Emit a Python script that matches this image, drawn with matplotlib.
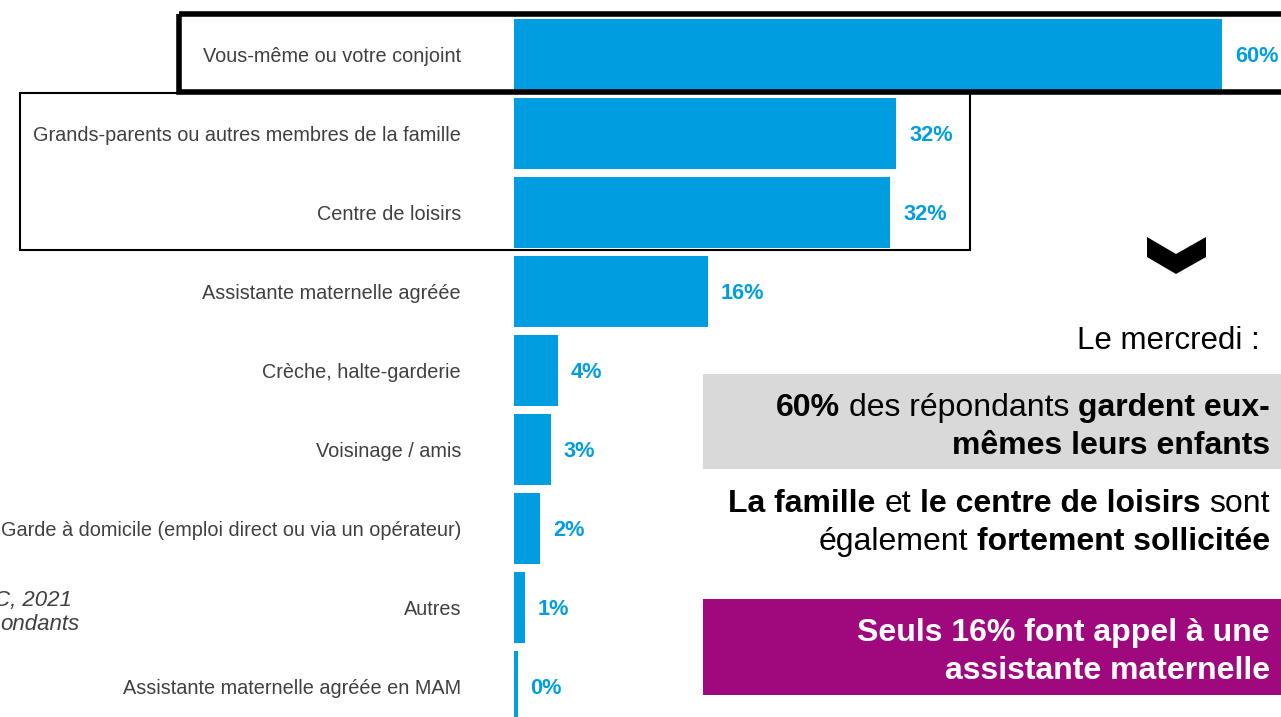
import matplotlib
matplotlib.use("Agg")
from matplotlib import pyplot as plt
from matplotlib.patches import Rectangle, Polygon
from matplotlib.transforms import Affine2D

plt.rcParams['font.family'] = ['Liberation Sans', 'DejaVu Sans']

# Mode de garde le mercredi (% des répondants)
categories = [
    "Vous-même ou votre conjoint",
    "Grands-parents ou autres membres de la famille",
    "Centre de loisirs",
    "Assistante maternelle agréée",
    "Crèche, halte-garderie",
    "Voisinage / amis",
    "Garde à domicile (emploi direct ou via un opérateur)",
    "Autres",
    "Assistante maternelle agréée en MAM",
]
values = [60, 32.4, 31.9, 16.4, 3.7, 3.1, 2.2, 0.9, 0.3]

BLUE = '#009ee0'
GREY_TXT = '#404040'
PURPLE = '#a0097d'

W, H = 1281, 717
fig = plt.figure(figsize=(W / 100, H / 100), dpi=100)
ax = fig.add_axes([0, 0, 1, 1])
ax.axis('off')

# x: bar origin at 514 px, 11.8 px per percent; rows every 79 px
x0, scale = 514, 11.8
row0, pitch = 54, 79
ax.set_xlim(-x0 / scale, (W - x0) / scale)
ax.set_ylim((H - row0) / pitch, -row0 / pitch)

def px_x(px):
    return (px - x0) / scale

rows = list(range(len(categories)))
ax.barh(rows, values, height=71 / pitch, color=BLUE)

dy = 2.5 / pitch
for i, (cat, v) in enumerate(zip(categories, values)):
    ax.text(px_x(461), i + dy, cat, ha='right', va='center', fontsize=14.3, color=GREY_TXT)
    ax.text(v + 13 / scale, i + dy, f"{v:.0f}%", ha='left', va='center',
            fontsize=15.7, fontweight='bold', color=BLUE)

# pixel coordinates measured from the top-left corner
pix = Affine2D().scale(1 / W, -1 / H).translate(0, 1) + fig.transFigure

fig.patches.append(Rectangle((178.5, 14), 1150, 78, transform=pix, fill=False,
                             ec='black', lw=4))
fig.patches.append(Rectangle((19.5, 93), 950.5, 156.5, transform=pix, fill=False,
                             ec='black', lw=1.5))

chevron = [(1147, 237), (1176, 254), (1206, 237), (1206, 257), (1176, 274), (1147, 257)]
fig.patches.append(Polygon(chevron, closed=True, transform=pix, fc='black', ec='none'))

fig.patches.append(Rectangle((703, 374), 600, 95, transform=pix, fc='#d9d9d9', ec='none'))
fig.patches.append(Rectangle((703, 599), 600, 96, transform=pix, fc=PURPLE, ec='none'))

renderer = fig.canvas.get_renderer()

def rich_line(x, y, parts, size, color='black'):
    # draws the parts right to left so the line ends at x (baseline at y)
    sp = 0.278 * size * 100 / 72
    for text, weight in reversed(parts):
        if text.endswith(' '):
            x -= sp
        t = fig.text(x, y, text.strip(), transform=pix, ha='right', va='baseline',
                     fontsize=size, fontweight=weight, color=color)
        x -= t.get_window_extent(renderer).width
        if text.startswith(' '):
            x -= sp

fs = 23
rich_line(1260, 349, [("Le mercredi :", 'normal')], 22.5)
rich_line(1270, 416, [("60%", 'bold'), (" des répondants ", 'normal'), ("gardent eux-", 'bold')], fs)
rich_line(1270, 454, [("mêmes leurs enfants", 'bold')], fs)
rich_line(1270, 512, [("La famille", 'bold'), (" et ", 'normal'),
                      ("le centre de loisirs", 'bold'), (" sont", 'normal')], fs)
rich_line(1270, 550, [("également ", 'normal'), ("fortement sollicitée", 'bold')], fs)
rich_line(1270, 641, [("Seuls 16% font appel à une", 'bold')], fs, 'white')
rich_line(1270, 679, [("assistante maternelle", 'bold')], fs, 'white')

fig.text(72, 606, "C, 2021", transform=pix, ha='right', va='baseline',
         fontsize=16, style='italic', color=GREY_TXT)
fig.text(79, 630, "ondants", transform=pix, ha='right', va='baseline',
         fontsize=16, style='italic', color=GREY_TXT)

fig.savefig("out.png", dpi=100)
